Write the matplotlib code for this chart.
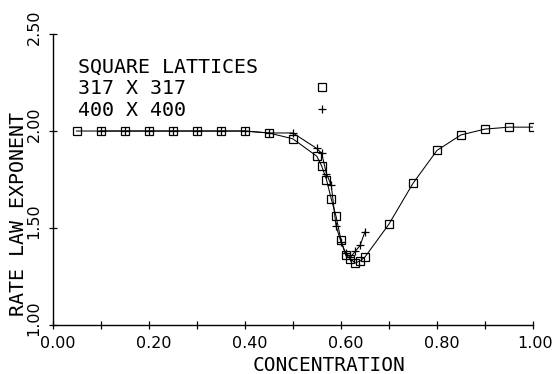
import numpy as np
import matplotlib
matplotlib.use("Agg")
import matplotlib.pyplot as plt
import matplotlib.transforms as mtransforms
from matplotlib.lines import Line2D
from matplotlib.ticker import MultipleLocator

# 317 x 317 lattice (squares)
conc_317 = [0.05, 0.10, 0.15, 0.20, 0.25, 0.30, 0.35, 0.40, 0.45, 0.50,
            0.55, 0.56, 0.57, 0.58, 0.59, 0.60, 0.61, 0.62, 0.63, 0.64, 0.65,
            0.70, 0.75, 0.80, 0.85, 0.90, 0.95, 1.00]
rate_317 = [2.00, 2.00, 2.00, 2.00, 2.00, 2.00, 2.00, 2.00, 1.99, 1.96,
            1.87, 1.82, 1.75, 1.65, 1.56, 1.44, 1.36, 1.34, 1.32, 1.33, 1.35,
            1.52, 1.73, 1.90, 1.98, 2.01, 2.02, 2.02]

# 400 x 400 lattice (plus signs)
conc_400 = [0.10, 0.15, 0.20, 0.25, 0.30, 0.35, 0.40, 0.45, 0.50,
            0.55, 0.56, 0.57, 0.58, 0.59, 0.60, 0.61, 0.62, 0.63, 0.64, 0.65]
rate_400 = [2.00, 2.00, 2.00, 2.00, 2.00, 2.00, 2.00, 1.99, 1.99,
            1.91, 1.885, 1.78, 1.72, 1.51, 1.43, 1.37, 1.35, 1.38, 1.41, 1.48]

x_ticks = [0.0, 0.2, 0.4, 0.6, 0.8, 1.0]
y_ticks = [1.0, 1.5, 2.0, 2.5]

mono = "DejaVu Sans Mono"

fig = plt.figure(figsize=(5.53, 3.74), dpi=100)
ax = fig.add_axes([0.095, 0.131, 0.869, 0.778])

sq_style = dict(marker="s", ms=5.2, mfc="none", mec="black", mew=0.9)
pl_style = dict(marker="+", ms=6.0, mec="black", mew=0.9)

ax.plot(conc_317, rate_317, color="black", lw=0.75, **sq_style)
ax.plot(conc_400, rate_400, color="black", lw=0.75, **pl_style)

ax.set_xlim(0.0, 1.0)
ax.set_ylim(1.0, 2.5)
ax.set_xticks(x_ticks)
ax.set_xticklabels([f"{v:.2f}" for v in x_ticks])
ax.xaxis.set_minor_locator(MultipleLocator(0.1))
ax.set_yticks(y_ticks)
ax.set_yticklabels([f"{v:.2f}" for v in y_ticks], rotation=90, va="center")

for s in ["top", "right"]:
    ax.spines[s].set_visible(False)
for s in ["left", "bottom"]:
    ax.spines[s].set_linewidth(1.0)

ax.tick_params(which="both", direction="inout", length=6, width=0.9,
               colors="black")
ax.tick_params(axis="x", pad=5)
ax.tick_params(axis="y", pad=5)

# plotter labels sit a little right of / above their ticks
xlabs = ax.get_xticklabels()
for i, lab in enumerate(xlabs):
    shift = 0.05 if i < len(xlabs) - 1 else 0.02
    lab.set_fontsize(11.5)
    lab.set_transform(lab.get_transform() +
                      mtransforms.ScaledTranslation(shift, 0, fig.dpi_scale_trans))
dy = mtransforms.ScaledTranslation(0, 0.065, fig.dpi_scale_trans)
for lab in ax.get_yticklabels():
    lab.set_fontsize(11.5)
    lab.set_transform(lab.get_transform() + dy)

ax.set_xlabel("CONCENTRATION", fontfamily=mono, fontsize=14)
ax.set_ylabel("RATE LAW EXPONENT", fontfamily=mono, fontsize=14.4)
ax.xaxis.set_label_coords(0.575, -0.105)
ax.yaxis.set_label_coords(-0.052, 0.38)

handles = [Line2D([], [], ls="none", **sq_style),
           Line2D([], [], ls="none", **pl_style)]
leg = ax.legend(handles, ["317 X 317", "400 X 400"], title="SQUARE LATTICES",
                loc="upper left", bbox_to_anchor=(0.053, 0.92), frameon=False,
                markerfirst=False, handlelength=1.0, handletextpad=6.3,
                labelspacing=0.15, borderpad=0, borderaxespad=0,
                alignment="left", prop={"family": mono, "size": 14.4},
                title_fontproperties={"family": mono, "size": 14.4})

fig.savefig("out.png", dpi=100)
